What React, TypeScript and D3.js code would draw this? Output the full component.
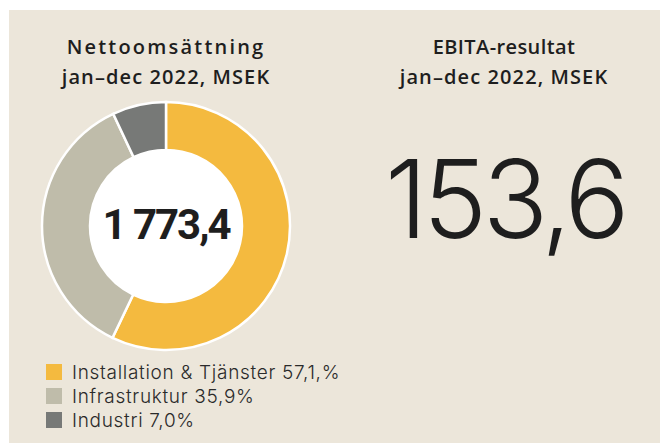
import { useMemo } from "react";
import * as d3 from "d3";

const segments = ["Installation & Tjänster", "Infrastruktur", "Industri"];
const shares = [57.1, 35.9, 7.0];
const shareLabels = ["57,1,%", "35,9%", "7,0%"];
const colors = ["#f4ba3f", "#bfbcaa", "#777977"];

const leftTitle = ["Nettoomsättning", "jan–dec 2022, MSEK"];
const rightTitle = ["EBITA-resultat", "jan–dec 2022, MSEK"];
const titleSpacing = [2.2, 1.1];
const rightTitleSpacing = [0.4, 1.1];
const totalLabel = "1 773,4";
const ebitaLabel = "153,6";

const width = 660;
const height = 443;
const bg = "#ece6da";
const ink = "#1e1e1e";

export default function App(): JSX.Element {
  const cx = 166;
  const cy = 226;
  const outerR = 124;
  const innerR = 76;

  const arcs = useMemo(() => {
    const pie = d3
      .pie<number>()
      .sort(null)
      .value((d) => d);
    return pie(shares);
  }, []);

  const arc = d3.arc<d3.PieArcDatum<number>>().innerRadius(innerR).outerRadius(outerR);

  const legendY = d3.scaleBand<number>().domain(d3.range(segments.length)).range([362, 434]);

  return (
    <svg
      width={width}
      height={height}
      viewBox={`0 0 ${width} ${height}`}
      style={{ position: "absolute", left: 0, top: 0 }}
    >
      <rect x={0} y={0} width={width} height={height} fill="#ffffff" />
      <rect x={9} y={10} width={width - 9} height={height - 10} fill={bg} />

      <g fontFamily="'Open Sans', Inter, sans-serif" fontWeight={600} fontSize={20} fill={ink} textAnchor="middle">
        {leftTitle.map((line, i) => (
          <text key={line} x={166} y={54 + i * 30} letterSpacing={titleSpacing[i]}>
            {line}
          </text>
        ))}
        {rightTitle.map((line, i) => (
          <text key={line} x={504} y={54 + i * 30} letterSpacing={rightTitleSpacing[i]}>
            {line}
          </text>
        ))}
      </g>

      <g transform={`translate(${cx},${cy})`}>
        {arcs.map((d, i) => (
          <path key={segments[i]} d={arc(d) ?? ""} fill={colors[i]} stroke="#ffffff" strokeWidth={2.5} />
        ))}
        <circle r={innerR} fill="#ffffff" />
        <text
          y={13}
          textAnchor="middle"
          fontFamily="Roboto, sans-serif"
          fontWeight={700}
          fontSize={42}
          letterSpacing={-2}
          fill={ink}
        >
          {totalLabel}
        </text>
      </g>

      <text
        x={505}
        y={238}
        textAnchor="middle"
        fontFamily="Inter, sans-serif"
        fontWeight={300}
        fontSize={108}
        letterSpacing={-4.5}
        fill={ink}
      >
        {ebitaLabel}
      </text>

      <g fontFamily="Inter, sans-serif" fontWeight={300} fontSize={19} fill="#2a2a2a">
        {segments.map((name, i) => {
          const y = legendY(i) ?? 0;
          return (
            <g key={name} transform={`translate(46,${y})`}>
              <rect width={16} height={16} y={2} fill={colors[i]} />
              <text x={26} y={17} letterSpacing={0.7}>
                {`${name} ${shareLabels[i]}`}
              </text>
            </g>
          );
        })}
      </g>
    </svg>
  );
}
